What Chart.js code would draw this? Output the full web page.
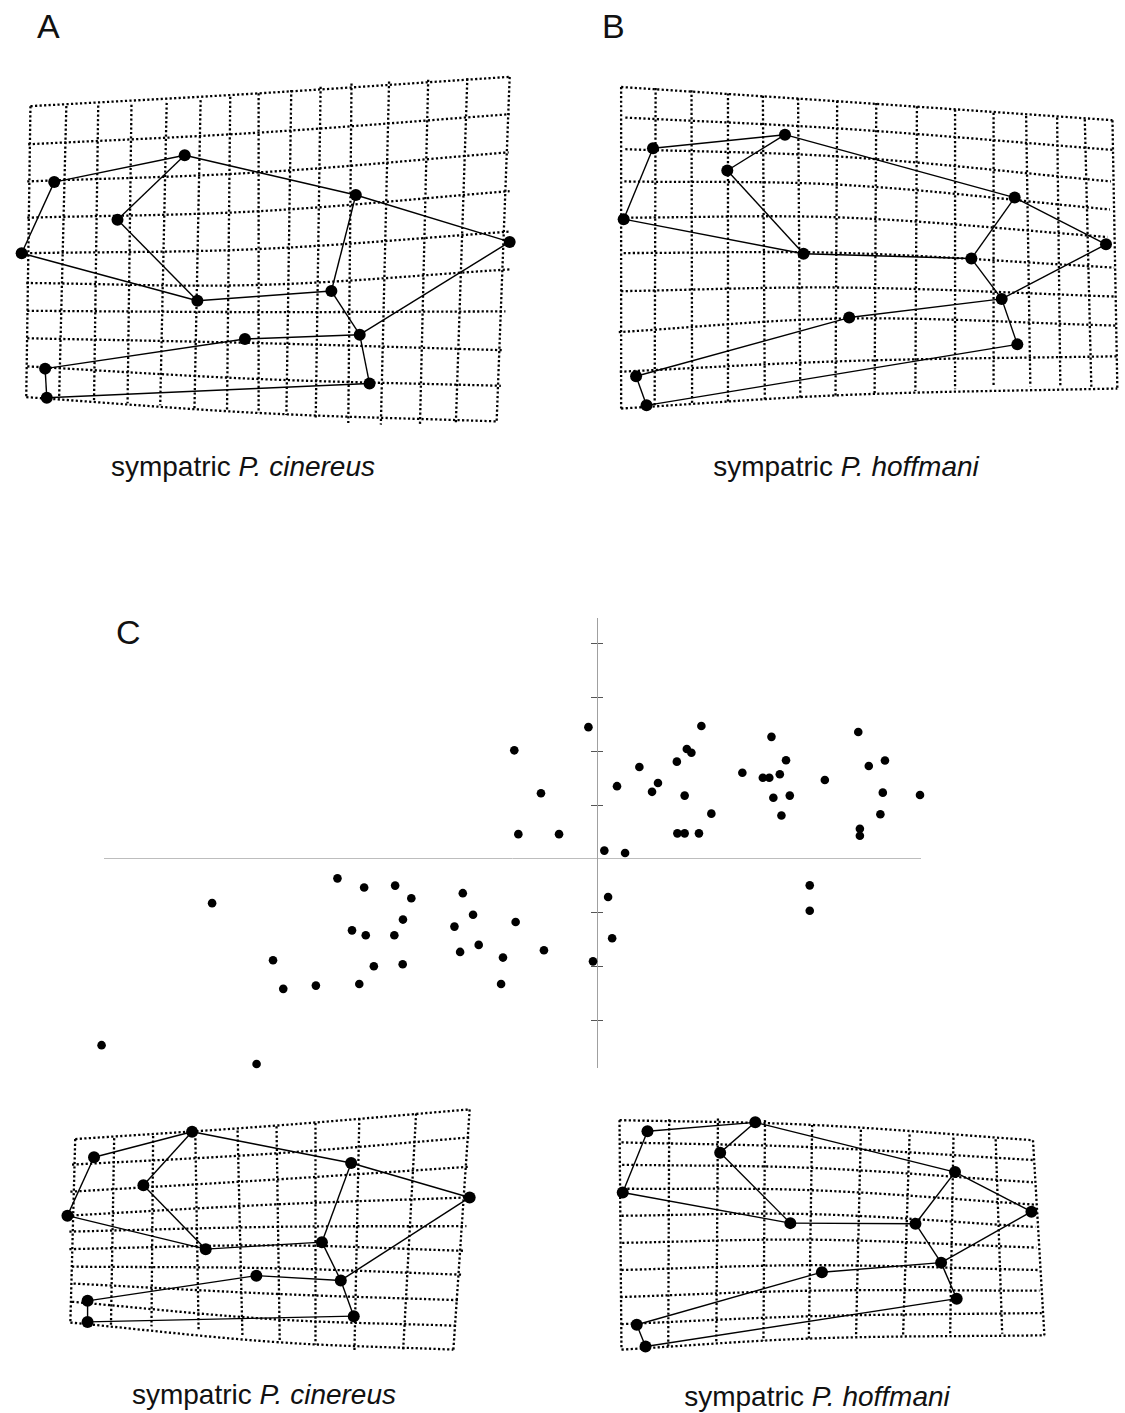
<!DOCTYPE html>
<html>
<head>
<meta charset="utf-8">
<title>Sympatric P. cinereus / P. hoffmani</title>
<script src="https://cdn.jsdelivr.net/npm/chart.js@4.4.0/dist/chart.umd.min.js"></script>
<style>
  html, body { margin: 0; padding: 0; background: #fff; }
  body { width: 1125px; height: 1413px; position: relative; overflow: hidden;
         font-family: "Liberation Sans", Arial, sans-serif; color: #111; }
  canvas { position: absolute; }
  .letter { position: absolute; font-size: 34px; line-height: 34px; }
  .caption { position: absolute; width: 400px; font-size: 28px; line-height: 28px;
             text-align: center; white-space: nowrap; }
</style>
</head>
<body>
<div class="letter" style="left:37px; top:9px">A</div>
<div class="letter" style="left:602px; top:9px">B</div>
<div class="letter" style="left:116px; top:615px">C</div>
<div class="caption" style="left:43px; top:453px">sympatric <i>P. cinereus</i></div>
<div class="caption" style="left:646px; top:453px">sympatric <i>P. hoffmani</i></div>
<div class="caption" style="left:64px; top:1381px">sympatric <i>P. cinereus</i></div>
<div class="caption" style="left:617px; top:1383px">sympatric <i>P. hoffmani</i></div>

<script>
// ---- deformation grids: line end points (page pixels) ----
// panel A
var aTop = [[25,101.7],[61.7,101.5],[94.3,101],[128.3,100.3],[164.3,98.3],[199,95.5],[229.3,92],[258.3,88.5],[291.7,85],[321.7,81.7],[353.3,78.3],[391.7,76.3],[431.7,74.5],[471.7,73],[515,71.5]];
var aBot = [[20.7,401.7],[54.3,403.3],[90,405],[124.3,408],[157.7,410],[192.7,413],[226,415],[258.3,418],[286.7,420],[316.7,423.3],[350,428.3],[383.3,430],[423.3,430],[460,428.3],[501.7,426.7]];
var aLeft = [[25,101.7],[22.7,141],[21.7,179.3],[21.7,216.7],[20,253.3],[20.7,284],[21.7,312.7],[21.7,341],[21.7,370],[20.7,401.7]];
var aMid = [[258.3,88.5],[258.3,129],[258.3,170],[258.3,210],[258.3,249],[258.3,286],[258.3,314],[258.3,346],[258.3,383],[258.3,418]];
var aRight = [[515,71.5],[515,110],[514,149.3],[515,189.3],[516,231],[515,270],[510.7,313.3],[508.3,353.3],[506,390],[501.7,426.7]];
var aMarks = [[49.3,180],[182.7,152.3],[114,218.7],[16,253.3],[195.7,302.3],[357.7,193.3],[515,241.7],[332.7,292.3],[361.7,337.3],[244.3,341.7],[40,372.3],[41.7,402.3],[371.7,387.7]];

// panel B
var bTop = [[615.7,81.7],[651,82.7],[687.7,85],[725,88.3],[760.7,90.7],[796.7,93.3],[836.7,96],[876.7,98.3],[918.3,101.7],[957.3,105],[996.7,108.3],[1030,111.7],[1061.7,113.3],[1090,115],[1118.3,116]];
var bBot = [[615.7,414],[650,411],[688.3,409],[725,407],[762.7,405],[799,403],[835,401],[875,398.3],[916.7,396],[957.3,394],[996.7,391.7],[1034.3,391],[1065,391],[1096.7,391.7],[1123.3,393.3]];
var bLeft = [[615.7,81.7],[620,113.3],[620,146],[619,179.3],[616.7,216.7],[618.3,253.3],[615.7,292.7],[613.3,335],[614.3,376],[615.7,414]];
var bMid = [[845,97],[845,125],[845,154],[845,183],[845,216.7],[845,253.3],[845,289],[845,321],[845,365],[845,400]];
var bRight = [[1118.3,116],[1118.3,146.7],[1116.7,179.3],[1115.7,208.3],[1113.3,236.7],[1120,268.3],[1121.7,298.3],[1122.7,328.3],[1124,360],[1123.3,393.3]];
var bMarks = [[648.3,145],[783.3,131],[724.3,168],[618.3,218.3],[802.3,254],[1018.3,196],[1111.7,244.3],[974,259],[1005,300.7],[849,320],[631,380.7],[641.7,410.7],[1021,347.7]];

// panel C, lower left
var cTop = [[70,1135],[110,1134],[150,1131.7],[193.3,1129.3],[236.7,1126],[276.7,1121.7],[316.7,1118.3],[361.7,1113.3],[420,1108.3],[475,1104]];
var cBot = [[65,1326.7],[106.7,1329.3],[148.3,1330.7],[196.7,1335],[241.7,1340.7],[280,1346.7],[316.7,1350],[356.7,1356.7],[406.7,1356],[458.3,1355]];
var cLeft = [[70,1135],[66.7,1161.7],[65,1190],[62,1215],[64,1231.7],[64,1250],[66.7,1268.3],[68.3,1286],[66.7,1305],[65,1326.7]];
var cMid = [[275,1121],[275,1150],[275,1177.3],[275,1203.3],[275,1226.7],[275,1246],[275,1270],[275,1296.7],[275,1323.3],[275,1347]];
var cRight = [[475,1104],[475,1133.3],[473.3,1164],[473.3,1196],[471.7,1226],[468.3,1251.7],[466.7,1276.7],[463.3,1303.3],[460.7,1330],[458.3,1355]];
var cMarks = [[89.3,1154],[190,1127.3],[140,1183.3],[62,1215],[204,1250],[353.3,1160],[475,1196],[323.3,1242.7],[342.7,1282.7],[256,1277.7],[82.7,1304],[82.7,1326],[356,1320]];

// panel C, lower right
var dTop = [[614,1115],[665,1114],[715,1113.3],[763.3,1115],[811.7,1120],[861.7,1125],[911.7,1130],[956.7,1133.3],[1000,1135],[1038.3,1136]];
var dBot = [[616,1355],[664,1351.7],[713.3,1348.3],[761.7,1346],[808.3,1343.3],[856.7,1341.7],[905,1340],[953.3,1338.3],[1006.7,1338.3],[1050,1340]];
var dLeft = [[614,1115],[616,1138.3],[616.7,1161.7],[617.3,1186.7],[616,1215],[616.7,1243.3],[616,1271.7],[615,1300],[616,1328.3],[616,1355]];
var dMid = [[811.7,1120],[811.7,1143.3],[811.7,1165],[811.7,1188.3],[811.7,1213.3],[811.7,1240],[811.7,1266.7],[811.7,1293.3],[811.7,1320],[811.7,1343.3]];
var dRight = [[1038.3,1136],[1038.3,1156.7],[1038.3,1180],[1040,1203.3],[1040.7,1226.7],[1041.7,1248.3],[1043.3,1271.7],[1045,1293.3],[1047.3,1316.7],[1050,1340]];
var dMarks = [[642.7,1126.7],[753.3,1117.3],[717.3,1149],[617.3,1190.7],[789.3,1222.7],[958.3,1169.3],[1036.7,1210.7],[917.7,1223.3],[944,1264],[821.7,1274],[631.7,1329],[640.7,1351.7],[960,1301.7]];

// landmark outline (1-based landmark numbers)
var links = [[4,1],[1,2],[2,6],[6,7],[2,3],[3,5],[4,5],[5,8],[8,6],[8,9],[9,7],[9,10],[10,11],[11,12],[12,13],[13,9]];

// ---- scatter, panel C: relative warp scores ----
var rw1 = [-0.0032,-0.0307,-0.0208,-0.0292,-0.0141,0.0027,-0.0963,-0.0864,-0.0749,-0.0689,
           -0.0498,-0.1428,-0.0460,-0.0720,-0.0302,-0.0529,-0.0909,-0.0858,-0.0752,-0.0439,
           -0.0197,-0.0508,-0.1202,-0.0349,-0.0721,-0.0828,-0.0015,-0.1164,-0.1043,-0.0882,
           -0.0356,-0.1838,-0.1263,
           0.0387,0.0647,0.0969,0.0333,0.0350,0.0701,0.1068,0.0296,0.1008,0.0157,
           0.0539,0.0615,0.0639,0.0678,0.0845,0.0226,0.0074,0.0204,0.0325,0.0654,
           0.0715,0.1060,0.1198,0.0424,0.0684,0.1051,0.0298,0.0325,0.0378,0.0975,
           0.0975,0.0104,0.0789,0.0789,0.0041,0.0056];
var rw2 = [0.0489,0.0403,0.0244,0.0092,0.0092,0.0031,-0.0072,-0.0106,-0.0099,-0.0146,
           -0.0127,-0.0164,-0.0207,-0.0225,-0.0234,-0.0251,-0.0265,-0.0283,-0.0283,-0.0319,
           -0.0339,-0.0345,-0.0376,-0.0366,-0.0391,-0.0398,-0.0380,-0.0482,-0.0470,-0.0464,
           -0.0464,-0.0691,-0.0761,
           0.0493,0.0453,0.0471,0.0408,0.0394,0.0366,0.0365,0.0361,0.0345,0.0341,
           0.0320,0.0301,0.0301,0.0314,0.0293,0.0282,0.0270,0.0249,0.0235,0.0227,
           0.0235,0.0246,0.0237,0.0168,0.0161,0.0166,0.0095,0.0095,0.0095,0.0112,
           0.0086,0.0022,-0.0098,-0.0192,-0.0141,-0.0294];
var rwTickStep = 0.02;

Chart.defaults.font.family = '"Liberation Sans", Arial, sans-serif';

function toPt(p) { return { x: p[0], y: p[1] }; }

function dotted(points) {
  return {
    data: points, showLine: true, pointRadius: 0, borderColor: '#000',
    borderWidth: 2.3, borderDash: [2.2, 2.3], tension: 0.35, order: 3
  };
}

function makeCanvas(box) {
  var c = document.createElement('canvas');
  c.width = box.w;
  c.height = box.h;
  c.style.left = box.left + 'px';
  c.style.top = box.top + 'px';
  document.body.appendChild(c);
  return c;
}

function drawGrid(box, top, bot, left, mid, right, marks) {
  var sets = [];
  // vertical grid lines
  for (var i = 0; i < top.length; i++) {
    sets.push(dotted([toPt(top[i]), toPt(bot[i])]));
  }
  // horizontal grid lines
  for (var j = 0; j < left.length; j++) {
    sets.push(dotted([toPt(left[j]), toPt(mid[j]), toPt(right[j])]));
  }
  links.forEach(function (l) {
    sets.push({
      data: [toPt(marks[l[0] - 1]), toPt(marks[l[1] - 1])],
      showLine: true, pointRadius: 0, borderColor: '#000', borderWidth: 1.4, order: 2
    });
  });
  sets.push({
    data: marks.map(toPt), showLine: false, pointRadius: 6,
    backgroundColor: '#000', borderWidth: 0, order: 1
  });

  new Chart(makeCanvas(box), {
    type: 'scatter',
    data: { datasets: sets },
    options: {
      responsive: false, animation: false, events: [],
      layout: { padding: 0 },
      plugins: { legend: { display: false }, tooltip: { enabled: false } },
      scales: {
        x: { type: 'linear', display: false, min: box.left, max: box.left + box.w },
        y: { type: 'linear', display: false, reverse: true, min: box.top, max: box.top + box.h }
      }
    }
  });
}

drawGrid({ left: 0, top: 50, w: 545, h: 400 }, aTop, aBot, aLeft, aMid, aRight, aMarks);
drawGrid({ left: 590, top: 60, w: 535, h: 370 }, bTop, bBot, bLeft, bMid, bRight, bMarks);
drawGrid({ left: 40, top: 1090, w: 460, h: 280 }, cTop, cBot, cLeft, cMid, cRight, cMarks);
drawGrid({ left: 595, top: 1095, w: 470, h: 275 }, dTop, dBot, dLeft, dMid, dRight, dMarks);

// axes sit in the middle of the plot, so they must not take room from it
function noWidth(s) { s.width = 0; }
function noHeight(s) { s.height = 0; }

var xRange = { min: -0.1829, max: 0.1198 };
var yRange = { min: -0.0772, max: 0.0894 };

new Chart(makeCanvas({ left: 60, top: 600, w: 900, h: 480 }), {
  type: 'scatter',
  data: {
    datasets: [{
      data: rw1.map(function (v, i) { return { x: v, y: rw2[i] }; }),
      pointRadius: 4.3, backgroundColor: '#000', borderWidth: 0, clip: false
    }]
  },
  options: {
    responsive: false, animation: false, events: [],
    layout: { padding: { left: 44, right: 40, top: 18, bottom: 13 } },
    plugins: { legend: { display: false }, tooltip: { enabled: false } },
    scales: {
      x: {
        type: 'linear', min: xRange.min, max: xRange.max, position: { y: 0 },
        afterFit: noHeight,
        ticks: { display: false },
        grid: { drawOnChartArea: false, drawTicks: false },
        border: { display: true, color: '#bdbdbd', dash: [5, 2, 2, 2], width: 1 }
      },
      y: {
        type: 'linear', min: yRange.min, max: yRange.max, position: { x: 0 },
        afterFit: noWidth,
        ticks: { display: false, stepSize: rwTickStep, includeBounds: false },
        grid: { drawOnChartArea: false, drawTicks: true, tickLength: 6, color: '#555', lineWidth: 1 },
        border: { display: true, color: '#a0a0a0', dash: [2, 2], width: 1 }
      },
      // second copy of the axis, shifted right, for the right half of each tick cross
      y2: {
        axis: 'y', type: 'linear', min: yRange.min, max: yRange.max, position: { x: 0.0023 },
        afterFit: noWidth,
        ticks: { display: false, stepSize: rwTickStep, includeBounds: false },
        grid: { drawOnChartArea: false, drawTicks: true, tickLength: 6, color: '#555', lineWidth: 1 },
        border: { display: false }
      }
    }
  }
});
</script>
</body>
</html>
